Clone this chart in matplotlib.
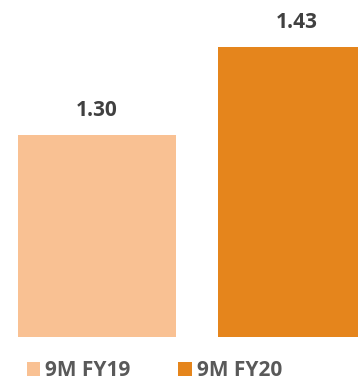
import matplotlib
matplotlib.use("Agg")
import matplotlib.pyplot as plt

categories = ["9M FY19", "9M FY20"]
values = [1.30, 1.43]
colors = ["#F9C193", "#E5851C"]

plt.rcParams['font.family'] = ['Open Sans', 'DejaVu Sans']

fig = plt.figure(figsize=(3.58, 3.82), dpi=100)
ax = fig.add_axes([0, 45/382, 1, 337/382])
bars = ax.bar(range(len(values)), values, width=0.79, color=colors, bottom=0)
ax.set_ylim(1.0, 1.5)
ax.set_xlim(-0.485, 1.305)
for b, v in zip(bars, values):
    ax.annotate(f"{v:.2f}", (b.get_x() + b.get_width()/2, v), xytext=(0, 10),
                textcoords="offset points", ha="center", va="bottom",
                fontsize=15, fontweight="bold", color="#404040")
ax.axis("off")
leg = fig.legend(bars, categories, loc="center left", bbox_to_anchor=(0.075, 11/382),
                 ncol=2, frameon=False, handlelength=0.63, handleheight=0.63,
                 handletextpad=0.25, columnspacing=2.3, borderaxespad=0, borderpad=0,
                 prop={'size': 15, 'weight': 'bold'})
for t in leg.get_texts():
    t.set_color("#595959")
fig.savefig("out.png", dpi=100)
